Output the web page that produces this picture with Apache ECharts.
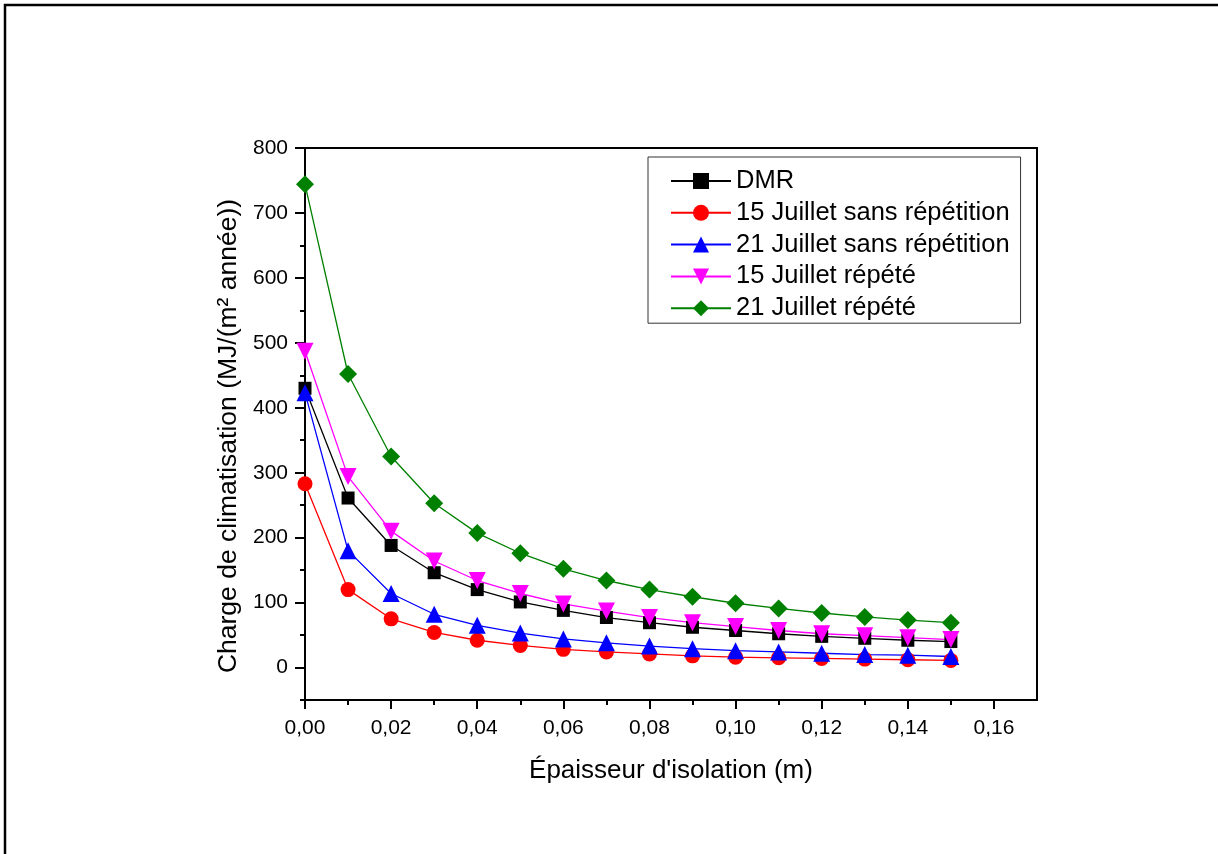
<!DOCTYPE html>
<html>
<head>
<meta charset="utf-8">
<script src="https://cdn.jsdelivr.net/npm/echarts@6/dist/echarts.min.js"></script>
<style>
html,body{margin:0;padding:0;background:#fff;}
#chart{width:1218px;height:854px;}
</style>
</head>
<body>
<div id="chart"></div>
<script>
var thickness = [0, 0.01, 0.02, 0.03, 0.04, 0.05, 0.06, 0.07, 0.08, 0.09, 0.10, 0.11, 0.12, 0.13, 0.14, 0.15];
var seriesNames = ['DMR', '15 Juillet sans répétition', '21 Juillet sans répétition', '15 Juillet répété', '21 Juillet répété'];
var dmr = [430, 261, 188, 146, 120, 101, 88, 77, 69, 62, 57, 52, 48, 45, 42, 40];
var juil15Sans = [283, 120, 75, 54, 42, 34, 28, 24, 21, 18, 16, 15, 14, 13, 12, 11];
var juil21Sans = [423, 180, 114, 82, 65, 53, 44, 38, 33, 29, 26, 24, 22, 20, 19, 17];
var juil15Rep = [487, 294, 210, 164, 134, 114, 98, 87, 77, 69, 63, 57, 52, 49, 46, 43];
var juil21Rep = [744, 452, 325, 253, 207, 176, 152, 134, 120, 109, 99, 91, 84, 78, 73, 69];
var xMajorTicks = [0, 0.02, 0.04, 0.06, 0.08, 0.10, 0.12, 0.14, 0.16];
var xMinorTicks = [0.01, 0.03, 0.05, 0.07, 0.09, 0.11, 0.13, 0.15];
var yMajorTicks = [0, 100, 200, 300, 400, 500, 600, 700, 800];
var yMinorTicks = [-50, 50, 150, 250, 350, 450, 550, 650, 750];

var values = [dmr, juil15Sans, juil21Sans, juil15Rep, juil21Rep];
var colors = ['#000000', '#ff0000', '#0000ff', '#ff00ff', '#008000'];
var symbols = ['rect', 'circle', 'triangle', 'path://M0,0 L10,0 L5,10 Z', 'diamond'];
var sizes = [13, 15, 17, 17, 18];

function pairs(arr) { return arr.map(function (v, i) { return [thickness[i], v]; }); }

var font = 'Arial, "Liberation Sans", sans-serif';
var chart = echarts.init(document.getElementById('chart'), null, { renderer: 'canvas' });

var series = values.map(function (arr, k) {
  return {
    name: seriesNames[k],
    type: 'line',
    data: pairs(arr),
    symbol: symbols[k],
    symbolSize: sizes[k],
    showAllSymbol: true,
    color: colors[k],
    lineStyle: { color: colors[k], width: 1.3 },
    itemStyle: { color: colors[k] },
    emphasis: { disabled: true },
    animation: false,
    xAxisIndex: 0,
    yAxisIndex: 0
  };
});

var axisLineStyle = { color: '#000', width: 2 };

chart.setOption({
  backgroundColor: '#fff',
  animation: false,
  graphic: [{
    type: 'rect',
    shape: { x: 5, y: 5, width: 1240, height: 880 },
    style: { fill: null, stroke: '#000', lineWidth: 2.5 },
    silent: true
  }],
  grid: {
    left: 305, right: 181, top: 148, bottom: 154,
    show: true, borderColor: '#000', borderWidth: 2, backgroundColor: 'transparent'
  },
  legend: {
    orient: 'vertical',
    left: 648, top: 157,
    backgroundColor: '#fff',
    borderColor: '#333', borderWidth: 1,
    padding: [11, 11, 2, 22],
    itemWidth: 60, itemHeight: 20,
    itemGap: 5.8,
    textStyle: { fontFamily: font, fontSize: 25.5, color: '#000', lineHeight: 25 },
    data: seriesNames
  },
  xAxis: [{
    type: 'value', min: 0, max: 0.17,
    name: "Épaisseur d'isolation (m)", nameLocation: 'middle', nameGap: 58,
    nameTextStyle: { fontFamily: font, fontSize: 26, color: '#000' },
    axisLine: { show: true, onZero: false, lineStyle: axisLineStyle },
    axisTick: { show: true, inside: false, length: 9, lineStyle: { color: '#000', width: 2 }, customValues: xMajorTicks },
    axisLabel: { customValues: xMajorTicks, fontFamily: font, fontSize: 21, color: '#000', margin: 18,
      formatter: function (v) { return v.toFixed(2).replace('.', ','); } },
    splitLine: { show: false }
  }, {
    type: 'value', min: 0, max: 0.17, position: 'bottom',
    axisLine: { show: false, onZero: false },
    axisTick: { show: true, length: 5, lineStyle: { color: '#000', width: 2 }, customValues: xMinorTicks },
    axisLabel: { show: false },
    splitLine: { show: false }
  }],
  yAxis: [{
    type: 'value', min: -50, max: 800,
    name: 'Charge de climatisation (MJ/(m² année))', nameLocation: 'middle', nameGap: 62,
    nameTextStyle: { fontFamily: font, fontSize: 26.5, color: '#000', padding: [0, 24, 0, 0] },
    axisLine: { show: true, onZero: false, lineStyle: axisLineStyle },
    axisTick: { show: true, length: 10, lineStyle: { color: '#000', width: 2 }, customValues: yMajorTicks },
    axisLabel: { customValues: yMajorTicks, fontFamily: font, fontSize: 21, color: '#000', margin: 17 },
    splitLine: { show: false }
  }, {
    type: 'value', min: -50, max: 800, position: 'left',
    axisLine: { show: false, onZero: false },
    axisTick: { show: true, length: 5, lineStyle: { color: '#000', width: 2 }, customValues: yMinorTicks },
    axisLabel: { show: false },
    splitLine: { show: false }
  }],
  series: series
});
</script>
</body>
</html>
